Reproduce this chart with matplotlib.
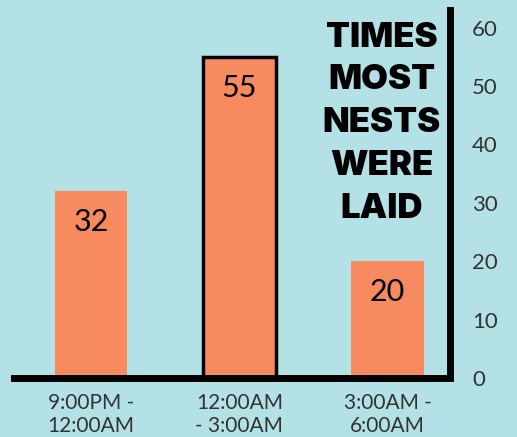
import matplotlib.pyplot as plt

labels = ['9:00PM -\n12:00AM', '12:00AM\n- 3:00AM', '3:00AM -\n6:00AM']
values = [32, 55, 20]
ticks = [0, 10, 20, 30, 40, 50, 60]
title = 'TIMES\nMOST\nNESTS\nWERE\nLAID'

bg = '#b4e1e6'
bar_color = '#f78a5f'

fig = plt.figure(figsize=(5.17, 4.37), dpi=100, facecolor=bg)
ax = fig.add_axes([14 / 517, 1 - 378 / 437, (450 - 14) / 517, 368 / 437])
ax.set_facecolor(bg)

x = range(len(values))
bars = ax.bar(x, values, width=0.49, color=bar_color, zorder=2)
# highlight the peak
bars[1].set_edgecolor('black')
bars[1].set_linewidth(2.5)

for xi, v in zip(x, values):
    ax.text(xi, v - 5.3, str(v), ha='center', va='center', fontsize=22,
            family='Lato', color='black')

ax.set_xlim(-0.52, 2.42)
ax.set_ylim(0, 63)

for s in ['top', 'left']:
    ax.spines[s].set_visible(False)
ax.spines['bottom'].set_linewidth(5)
ax.spines['right'].set_linewidth(5)
ax.spines['bottom'].set_capstyle('projecting')
ax.spines['right'].set_capstyle('projecting')

ax.yaxis.tick_right()
ax.set_yticks(ticks)
ax.set_yticklabels([str(t) for t in ticks], family='Lato', fontsize=16,
                   color='#333333')
ax.tick_params(axis='y', length=0, pad=16)
ax.set_xticks(list(x))
ax.set_xticklabels(labels, family='Lato', fontsize=15, color='#333333',
                   linespacing=1.2)
ax.tick_params(axis='x', length=0, pad=11)

ax.text(1.96, 61.0, title, ha='center', va='top', fontsize=25,
        family='Inter', fontweight='black', linespacing=1.43)

fig.savefig('out.png', dpi=100, facecolor=bg)
